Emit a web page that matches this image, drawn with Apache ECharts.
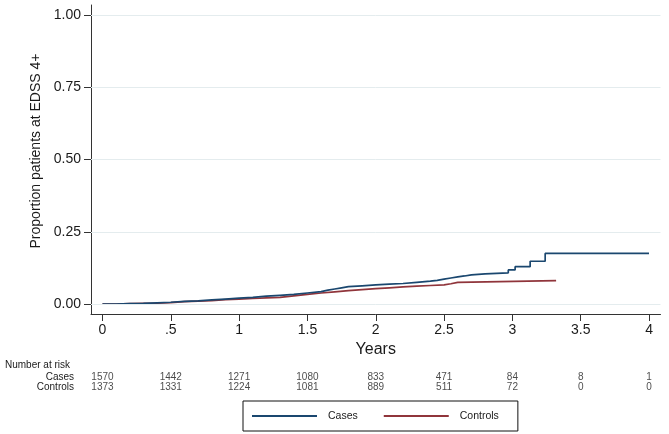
<!DOCTYPE html>
<html>
<head>
<meta charset="utf-8">
<script src="https://cdn.jsdelivr.net/npm/echarts@6/dist/echarts.min.js"></script>
<style>html,body{margin:0;padding:0;background:#fff}#c{width:669px;height:434px}</style>
</head>
<body>
<div id="c"></div>
<script>
// ---- data ----
var xTickVals = [0, 0.5, 1, 1.5, 2, 2.5, 3, 3.5, 4];
var xTickLabels = ['0', '.5', '1', '1.5', '2', '2.5', '3', '3.5', '4'];
var yTickVals = [0, 0.25, 0.5, 0.75, 1];
var yTickLabels = ['0.00', '0.25', '0.50', '0.75', '1.00'];

var casesTime = [0, 0.1, 0.2, 0.3, 0.4, 0.5, 0.6, 0.7, 0.8, 0.9, 1.0, 1.1, 1.2, 1.3, 1.4, 1.5, 1.6, 1.65, 1.7, 1.75, 1.8, 1.9, 2.0, 2.1, 2.2, 2.3, 2.4, 2.45, 2.5, 2.55, 2.6, 2.65, 2.7, 2.8, 2.97, 3.02, 3.13, 3.24, 4.0];
var casesProp = [0, 0.001, 0.002, 0.004, 0.006, 0.009, 0.011, 0.014, 0.017, 0.020, 0.023, 0.027, 0.030, 0.033, 0.038, 0.043, 0.048, 0.052, 0.056, 0.060, 0.063, 0.066, 0.069, 0.071, 0.075, 0.079, 0.082, 0.086, 0.090, 0.094, 0.097, 0.101, 0.104, 0.108, 0.118, 0.129, 0.148, 0.175, 0.175];

var controlsTime = [0, 0.1, 0.2, 0.3, 0.4, 0.5, 0.6, 0.7, 0.8, 0.9, 1.0, 1.1, 1.2, 1.3, 1.4, 1.5, 1.6, 1.7, 1.8, 1.9, 2.0, 2.1, 2.2, 2.3, 2.4, 2.5, 2.55, 2.6, 3.32];
var controlsProp = [0, 0.001, 0.002, 0.003, 0.005, 0.008, 0.010, 0.012, 0.015, 0.017, 0.019, 0.021, 0.023, 0.028, 0.033, 0.038, 0.042, 0.046, 0.050, 0.053, 0.056, 0.059, 0.062, 0.064, 0.066, 0.070, 0.075, 0.081, 0.081];

var riskRows = ['Cases', 'Controls'];
var casesAtRisk = [1570, 1442, 1271, 1080, 833, 471, 84, 8, 1];
var controlsAtRisk = [1373, 1331, 1224, 1081, 889, 511, 72, 0, 0];

// ---- build ----
var FONT = 'Liberation Sans';
var TXT = '#1a1a1a';
function pairs(xs, ys) { return xs.map(function (x, i) { return [x, ys[i]]; }); }
function riskData(rowIdx, arr) { return arr.map(function (v, i) { return [xTickVals[i], rowIdx, v]; }); }
function riskLabel() {
  return { show: true, position: 'inside', fontSize: 10, color: TXT, fontFamily: FONT, fontWeight: 'normal',
    formatter: function (p) { return String(p.value[2]); } };
}

var chart = echarts.init(document.getElementById('c'), null, { renderer: 'canvas' });
var xMin = -0.084, xMax = 4.084;
chart.setOption({
  backgroundColor: '#ffffff',
  animation: false,
  textStyle: { fontFamily: FONT },
  grid: [
    { left: 91, right: 8.5, top: 5, bottom: 120 },
    { left: 91, right: 8.5, top: 372, height: 20 }
  ],
  xAxis: [
    {
      gridIndex: 0, type: 'value', min: xMin, max: xMax,
      name: 'Years', nameLocation: 'middle', nameGap: 25,
      nameTextStyle: { fontSize: 16, color: TXT, fontFamily: FONT },
      axisLine: { show: true, onZero: false, lineStyle: { color: '#333', width: 1 } },
      axisTick: { show: true, length: 7, customValues: xTickVals, lineStyle: { color: '#333' } },
      axisLabel: {
        show: true, margin: 9, fontSize: 14, color: TXT, fontFamily: FONT,
        customValues: xTickVals,
        formatter: function (v) { var i = xTickVals.indexOf(v); return i >= 0 ? xTickLabels[i] : ''; }
      },
      splitLine: { show: false }
    },
    {
      gridIndex: 1, type: 'value', min: xMin, max: xMax, show: false
    }
  ],
  yAxis: [
    {
      gridIndex: 0, type: 'value', min: -0.0346, max: 1.0346,
      axisLine: { show: true, onZero: false, lineStyle: { color: '#333', width: 1 } },
      axisTick: { show: true, length: 7, customValues: yTickVals, lineStyle: { color: '#333' } },
      axisLabel: {
        show: true, margin: 10, fontSize: 14, color: TXT, fontFamily: FONT,
        customValues: yTickVals,
        formatter: function (v) { var i = yTickVals.indexOf(v); return i >= 0 ? yTickLabels[i] : ''; }
      },
      splitLine: { show: false }
    },
    {
      gridIndex: 1, type: 'category', data: riskRows, inverse: true,
      axisLine: { show: false }, axisTick: { show: false }, splitLine: { show: false },
      axisLabel: { show: true, interval: 0, hideOverlap: false, margin: 17, fontSize: 10, color: TXT, fontFamily: FONT }
    }
  ],
  legend: {
    data: ['Cases', 'Controls'],
    left: 243, top: 401,
    orient: 'horizontal',
    icon: 'rect',
    itemWidth: 65, itemHeight: 2, itemGap: 26,
    padding: [9.5, 19, 9.5, 9],
    borderColor: '#111', borderWidth: 1,
    textStyle: { fontSize: 10.5, color: TXT, fontFamily: FONT, padding: [0, 0, 0, 6] }
  },
  graphic: [
    { type: 'text', left: 5, top: 360, style: { text: 'Number at risk', fontSize: 10, fill: TXT, fontFamily: FONT } },
    { type: 'text', x: 36, y: 151, rotation: Math.PI / 2,
      style: { text: 'Proportion patients at EDSS 4+', fontSize: 14, fill: TXT, fontFamily: FONT, align: 'center', verticalAlign: 'middle' } }
  ],
  series: [
    {
      name: 'grid', type: 'line', xAxisIndex: 0, yAxisIndex: 0, data: [], z: 1, silent: true,
      markLine: {
        silent: true, symbol: ['none', 'none'], label: { show: false }, animation: false,
        lineStyle: { color: '#e4ecee', width: 1, type: 'solid' },
        data: yTickVals.map(function (v) { return { yAxis: v }; })
      }
    },
    {
      name: 'Cases', type: 'line', xAxisIndex: 0, yAxisIndex: 0, step: 'end',
      symbol: 'none', z: 4, color: '#1a476f',
      lineStyle: { color: '#1a476f', width: 1.7 },
      data: pairs(casesTime, casesProp)
    },
    {
      name: 'Controls', type: 'line', xAxisIndex: 0, yAxisIndex: 0, step: 'end',
      symbol: 'none', z: 3, color: '#90353b',
      lineStyle: { color: '#90353b', width: 1.7 },
      data: pairs(controlsTime, controlsProp)
    },
    {
      name: 'riskCases', type: 'scatter', xAxisIndex: 1, yAxisIndex: 1,
      symbolSize: 1, itemStyle: { color: 'rgba(0,0,0,0)' }, silent: true,
      labelLayout: { hideOverlap: false },
      label: riskLabel(),
      data: riskData(0, casesAtRisk)
    },
    {
      name: 'riskControls', type: 'scatter', xAxisIndex: 1, yAxisIndex: 1,
      symbolSize: 1, itemStyle: { color: 'rgba(0,0,0,0)' }, silent: true,
      labelLayout: { hideOverlap: false },
      label: riskLabel(),
      data: riskData(1, controlsAtRisk)
    }
  ]
});
</script>
</body>
</html>
